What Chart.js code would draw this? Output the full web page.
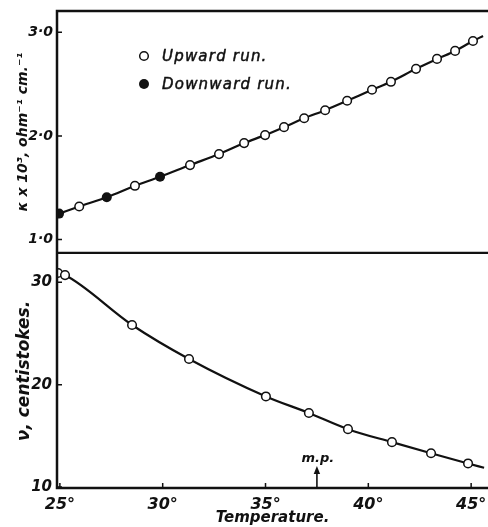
<!DOCTYPE html>
<html><head><meta charset="utf-8">
<script src="https://cdn.jsdelivr.net/npm/chart.js@4.4.1/dist/chart.umd.min.js"></script>
<style>
html,body{margin:0;padding:0;background:#fff;}
#wrap{position:relative;width:488px;height:527px;background:#fff;overflow:hidden;}
#cA{position:absolute;left:0;top:0;}
#cB{position:absolute;left:0;top:253px;}
</style></head><body>
<div id="wrap"><canvas id="cA" width="488" height="254"></canvas><canvas id="cB" width="488" height="274"></canvas></div>
<script>
// ---- data ----
const upTemp   = [25.94, 28.65, 31.33, 32.74, 33.96, 34.98, 35.90, 36.88, 37.90, 38.97, 40.18, 41.10, 42.32, 43.34, 44.22, 45.09];
const upKappa  = [1.319, 1.519, 1.719, 1.825, 1.931, 2.008, 2.085, 2.171, 2.248, 2.339, 2.445, 2.522, 2.647, 2.743, 2.820, 2.916];
const downTemp  = [24.96, 27.28, 29.87];
const downKappa = [1.251, 1.409, 1.606];
const kappaCurveEnd = [45.58, 2.964];
const viscTemp = [24.91, 25.25, 28.51, 31.28, 35.02, 37.11, 39.01, 41.15, 43.05, 44.85];
const viscNu   = [30.91, 30.71, 25.83, 22.51, 18.85, 17.23, 15.65, 14.38, 13.30, 12.30];
const viscCurveEnd = [45.63, 11.88];

const tempTicks = [25, 30, 35, 40, 45];
const tempTickLabels = ['25°', '30°', '35°', '40°', '45°'];
const kappaTicks = [1, 2, 3];
const kappaTickLabels = ['1·0', '2·0', '3·0'];
const nuTicks = [10, 20, 30];
const nuTickLabels = ['10', '20', '30'];
const legendLabels = ['Upward run.', 'Downward run.'];
const mpTemp = 37.5;
const mpLabel = 'm.p.';
const xTitle = 'Temperature.';
const kappaTitle = 'κ x 10³, ohm⁻¹ cm.⁻¹';
const nuTitle = 'ν, centistokes.';
const tempRange = [24.86, 45.82];
const kappaRange = [0.871, 3.205];
const nuRange = [9.9, 32.77];

// ---- build ----
const FAM = "'DejaVu Sans', sans-serif";
const INK = '#111';
Chart.defaults.font.family = FAM;
Chart.defaults.color = INK;

const pts = (xs, ys) => xs.map((x, i) => ({x, y: ys[i]}));
const kappaCurve = pts(downTemp, downKappa).concat(pts(upTemp, upKappa))
  .sort((a, b) => a.x - b.x).concat([{x: kappaCurveEnd[0], y: kappaCurveEnd[1]}]);
const viscCurve = pts(viscTemp, viscNu).concat([{x: viscCurveEnd[0], y: viscCurveEnd[1]}]);

const noPad = s => { s.paddingTop = 0; s.paddingBottom = 0; s.paddingLeft = 0; s.paddingRight = 0; };

const frame = (opts) => ({
  id: 'frame',
  afterDatasetsDraw(chart) {
    const {ctx, chartArea: a, scales} = chart;
    ctx.save();
    ctx.strokeStyle = INK;
    ctx.lineWidth = 2.5;
    ctx.lineCap = 'butt';
    ctx.beginPath();
    ctx.moveTo(a.left, a.top - (opts.top ? 1.25 : 0)); ctx.lineTo(a.left, a.bottom + 1.25);
    if (opts.top) { ctx.moveTo(a.left - 1.25, a.top); ctx.lineTo(a.right, a.top); }
    ctx.moveTo(a.left - 1.25, a.bottom); ctx.lineTo(a.right, a.bottom);
    ctx.stroke();
    // inward ticks
    ctx.lineWidth = 1.5;
    ctx.beginPath();
    const y = scales.y;
    y.ticks.forEach(t => { const p = y.getPixelForValue(t.value); ctx.moveTo(a.left, p); ctx.lineTo(a.left + 5, p); });
    if (opts.xticks) {
      const x = scales.x;
      x.ticks.forEach(t => { const p = x.getPixelForValue(t.value); ctx.moveTo(p, a.bottom); ctx.lineTo(p, a.bottom - 5); });
    }
    ctx.stroke();
    ctx.restore();
  }
});

const legendPlugin = {
  id: 'legendInside',
  afterDatasetsDraw(chart) {
    const {ctx} = chart;
    ctx.save();
    ctx.strokeStyle = INK; ctx.fillStyle = '#fff'; ctx.lineWidth = 1.5;
    ctx.beginPath(); ctx.arc(144, 56, 4.3, 0, Math.PI * 2); ctx.fill(); ctx.stroke();
    ctx.fillStyle = INK;
    ctx.beginPath(); ctx.arc(144, 84, 5, 0, Math.PI * 2); ctx.fill();
    ctx.font = "italic 15px " + FAM;
    try { ctx.letterSpacing = '1.2px'; } catch (e) {}
    ctx.textBaseline = 'middle'; ctx.textAlign = 'left';
    ctx.lineWidth = 0.5; ctx.strokeStyle = INK;
    ctx.fillText(legendLabels[0], 162, 57); ctx.strokeText(legendLabels[0], 162, 57);
    ctx.fillText(legendLabels[1], 162, 85); ctx.strokeText(legendLabels[1], 162, 85);
    ctx.restore();
  }
};

const mpPlugin = {
  id: 'mp',
  afterDatasetsDraw(chart) {
    const {ctx, chartArea: a, scales: {x}} = chart;
    const px = x.getPixelForValue(mpTemp);
    ctx.save();
    ctx.strokeStyle = INK; ctx.fillStyle = INK; ctx.lineWidth = 1.6;
    ctx.beginPath(); ctx.moveTo(px, a.bottom); ctx.lineTo(px, a.bottom - 17); ctx.stroke();
    ctx.beginPath(); ctx.moveTo(px, a.bottom - 22); ctx.lineTo(px - 3.2, a.bottom - 14); ctx.lineTo(px + 3.2, a.bottom - 14); ctx.closePath(); ctx.fill();
    ctx.font = "italic bold 13px " + FAM;
    ctx.textAlign = 'center'; ctx.textBaseline = 'alphabetic';
    ctx.fillText(mpLabel, px + 1, a.bottom - 26);
    ctx.restore();
  }
};

const base = {
  animation: false, responsive: false, devicePixelRatio: 1, events: [],
  plugins: {legend: {display: false}, tooltip: {enabled: false}}
};
const openPt = {showLine: false, pointRadius: 4.3, pointBorderWidth: 1.5, pointBackgroundColor: '#fff', pointBorderColor: INK};
const filledPt = {showLine: false, pointRadius: 5, pointBorderWidth: 0, pointBackgroundColor: INK, pointBorderColor: INK};
const curveStyle = {borderColor: INK, borderWidth: 2.2, pointRadius: 0, cubicInterpolationMode: 'monotone', fill: false};

new Chart(document.getElementById('cA'), {
  type: 'line',
  data: {datasets: [
    Object.assign({label: legendLabels[0], data: pts(upTemp, upKappa)}, openPt),
    Object.assign({label: legendLabels[1], data: pts(downTemp, downKappa)}, filledPt),
    Object.assign({label: 'curve', data: kappaCurve}, curveStyle)
  ]},
  options: Object.assign({}, base, {
    layout: {autoPadding: false, padding: {top: 11, bottom: 1, left: 0, right: 0}},
    scales: {
      x: {type: 'linear', min: tempRange[0], max: tempRange[1], display: false, afterFit: noPad},
      y: {type: 'linear', min: kappaRange[0], max: kappaRange[1],
          afterFit: s => { s.width = 57; noPad(s); },
          afterBuildTicks: s => { s.ticks = kappaTicks.map(v => ({value: v})); },
          grid: {display: false, drawTicks: false}, border: {display: false},
          ticks: {padding: 4, font: {family: FAM, size: 14, style: 'italic', weight: 'bold'}, color: INK,
                  callback: (v, i) => kappaTickLabels[i]},
          title: {display: true, text: kappaTitle, color: INK, padding: {top: 15, bottom: 0},
                  font: {family: FAM, size: 14, style: 'italic', weight: 'bold'}}}
    }
  }),
  plugins: [frame({top: true, xticks: false}), legendPlugin]
});

new Chart(document.getElementById('cB'), {
  type: 'line',
  data: {datasets: [
    Object.assign({label: 'viscosity', data: pts(viscTemp, viscNu)}, openPt),
    Object.assign({label: 'curve', data: viscCurve}, curveStyle)
  ]},
  options: Object.assign({}, base, {
    layout: {autoPadding: false, padding: {top: 1, bottom: 0, left: 0, right: 0}},
    scales: {
      x: {type: 'linear', min: tempRange[0], max: tempRange[1],
          afterFit: s => { s.height = 39; noPad(s); },
          afterBuildTicks: s => { s.ticks = tempTicks.map(v => ({value: v})); },
          grid: {display: false, drawTicks: false}, border: {display: false},
          ticks: {padding: 7, maxRotation: 0, autoSkip: false, font: {family: FAM, size: 16, style: 'italic', weight: 'bold'}, color: INK,
                  callback: (v, i) => tempTickLabels[i]},
          title: {display: true, text: xTitle, color: INK, padding: {top: 0, bottom: 0},
                  font: {family: FAM, size: 15, style: 'italic', weight: 'bold'}}},
      y: {type: 'linear', min: nuRange[0], max: nuRange[1],
          afterFit: s => { s.width = 57; noPad(s); },
          afterBuildTicks: s => { s.ticks = nuTicks.map(v => ({value: v})); },
          grid: {display: false, drawTicks: false}, border: {display: false},
          ticks: {padding: 5, font: {family: FAM, size: 15, style: 'italic', weight: 'bold'}, color: INK,
                  callback: (v, i) => nuTickLabels[i]},
          title: {display: true, text: nuTitle, color: INK, padding: {top: 14, bottom: 0},
                  font: {family: FAM, size: 17, style: 'italic', weight: 'bold'}}}
    }
  }),
  plugins: [frame({top: false, xticks: true}), mpPlugin]
});
</script>
</body></html>
